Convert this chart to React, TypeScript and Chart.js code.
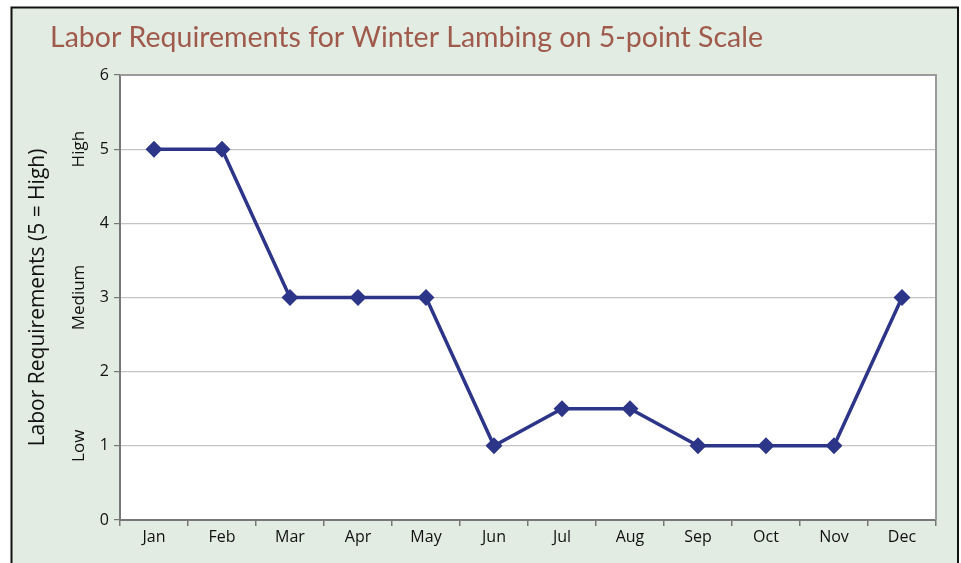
import React, { useEffect, useRef } from "react";
import { Chart, registerables } from "chart.js";

Chart.register(...registerables);

const TITLE = "Labor Requirements for Winter Lambing on 5-point Scale";
const Y_TITLE = "Labor Requirements (5 = High)";
const months = ["Jan", "Feb", "Mar", "Apr", "May", "Jun", "Jul", "Aug", "Sep", "Oct", "Nov", "Dec"];
const labor = [5, 5, 3, 3, 3, 1, 1.5, 1.5, 1, 1, 1, 3];
const levelValues = [5, 3, 1];
const levelNames = ["High", "Medium", "Low"];

const BG = "#e2ece3";
const LINE = "#2d3589";
const FONT = "'Open Sans', 'Noto Sans', sans-serif";

const decor = {
  id: "decor",
  beforeDraw(chart: any) {
    const { ctx, chartArea: a, width, height } = chart;
    ctx.save();
    ctx.fillStyle = "#ffffff";
    ctx.fillRect(0, 0, width, height);
    ctx.fillStyle = BG;
    ctx.fillRect(12, 8, 946, height);
    ctx.strokeStyle = "#111";
    ctx.lineWidth = 2;
    ctx.beginPath();
    ctx.moveTo(11.5, height + 5);
    ctx.lineTo(11.5, 7.5);
    ctx.lineTo(958, 7.5);
    ctx.lineTo(958, height + 5);
    ctx.stroke();
    ctx.fillStyle = "#ffffff";
    ctx.fillRect(a.left, a.top, a.right - a.left, a.bottom - a.top);
    // title
    ctx.fillStyle = "#a05a4c";
    ctx.font = "28.5px Lato, 'Open Sans', sans-serif";
    ctx.textAlign = "left";
    ctx.textBaseline = "alphabetic";
    ctx.fillText(TITLE, 50, 47);
    ctx.restore();
  },
  afterDraw(chart: any) {
    const { ctx, chartArea: a, scales } = chart;
    const y = scales.y;
    ctx.save();
    // plot border top/right
    ctx.strokeStyle = "#9a9a9a";
    ctx.lineWidth = 2;
    ctx.beginPath();
    ctx.moveTo(a.left, a.top);
    ctx.lineTo(a.right, a.top);
    ctx.lineTo(a.right, a.bottom);
    ctx.stroke();
    // y title
    ctx.fillStyle = "#111";
    ctx.textAlign = "center";
    ctx.textBaseline = "middle";
    ctx.font = `21px ${FONT}`;
    ctx.translate(38, (a.top + a.bottom) / 2);
    ctx.rotate(-Math.PI / 2);
    ctx.fillText(Y_TITLE, 0, 0);
    ctx.restore();
    // level names
    levelValues.forEach((v, i) => {
      const py = y.getPixelForValue(v);
      ctx.save();
      ctx.fillStyle = "#111";
      ctx.textAlign = "center";
      ctx.textBaseline = "middle";
      ctx.font = `17px ${FONT}`;
      ctx.translate(79, py);
      ctx.rotate(-Math.PI / 2);
      ctx.fillText(levelNames[i], 0, 0);
      ctx.restore();
    });
  },
};

export default function App() {
  const ref = useRef<HTMLCanvasElement>(null);
  useEffect(() => {
    const chart = new Chart(ref.current!, {
      type: "line",
      data: {
        labels: months,
        datasets: [
          {
            data: labor,
            borderColor: LINE,
            backgroundColor: LINE,
            borderWidth: 3.5,
            pointStyle: "rectRot",
            pointRadius: 6,
            pointHoverRadius: 6,
            pointBackgroundColor: LINE,
            pointBorderColor: LINE,
            tension: 0,
          },
        ],
      },
      options: {
        responsive: false,
        animation: false,
        layout: { padding: { left: 0, top: 75, right: 25, bottom: 0 } },
        plugins: { legend: { display: false }, tooltip: { enabled: false }, title: { display: false } },
        scales: {
          x: {
            offset: true,
            grid: {
              offset: true,
              drawOnChartArea: false,
              drawTicks: true,
              tickLength: 6,
              color: "#777",
              lineWidth: 1.5,
            },
            border: { color: "#777", width: 2 },
            ticks: { color: "#111", font: { family: FONT, size: 16 }, padding: 2, maxRotation: 0 },
            afterFit: (s: any) => {
              s.height = 43;
            },
          },
          y: {
            min: 0,
            max: 6,
            grid: {
              color: "#c4c4c4",
              lineWidth: 1.2,
              tickLength: 6,
              tickColor: "#777",
            },
            border: { color: "#777", width: 2 },
            ticks: { stepSize: 1, color: "#111", font: { family: FONT, size: 16 }, padding: 5 },
            afterFit: (s: any) => {
              s.width = 120;
            },
          },
        },
      },
      plugins: [decor],
    });
    return () => chart.destroy();
  }, []);
  return (
    <div style={{ position: "fixed", left: 0, top: 0, width: 961, height: 563 }}>
      <canvas ref={ref} width={961} height={563} style={{ display: "block", width: 961, height: 563 }} />
    </div>
  );
}
